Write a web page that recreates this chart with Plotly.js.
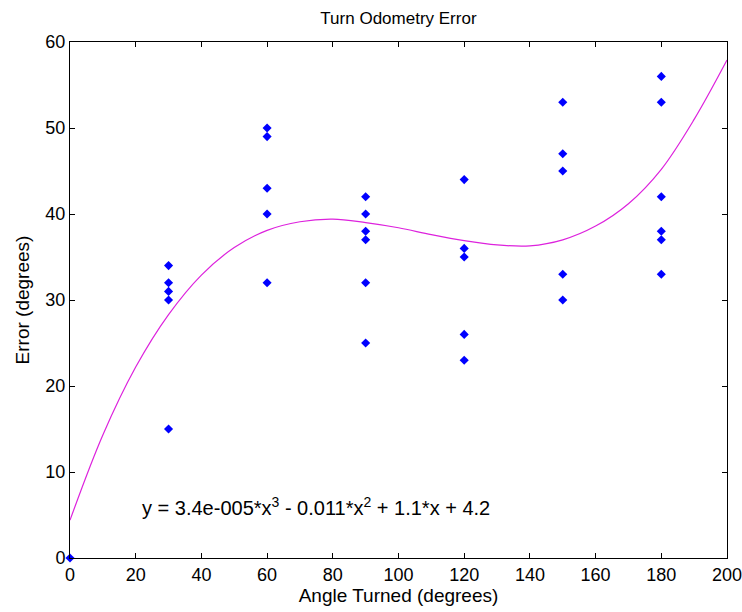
<!DOCTYPE html>
<html>
<head>
<meta charset="utf-8">
<script src="https://cdn.plot.ly/plotly-3.0.1.min.js"></script>
<style>html,body{margin:0;padding:0;background:#fff;}#chart{width:742px;height:612px;}</style>
</head>
<body>
<div id="chart"></div>
<script>
// Measured data points (angle turned, error)
const angles = [0, 30,30,30,30,30, 60,60,60,60,60, 90,90,90,90,90,90, 120,120,120,120,120, 150,150,150,150,150, 180,180,180,180,180,180];
const errors = [0, 34,32,31,30,15, 50,49,43,40,32, 42,40,38,37,32,25, 44,36,35,26,23, 53,47,45,33,30, 56,53,42,38,37,33];

// Fitted cubic curve
const fitX = [0,10,20,30,40,50,60,70,80,90,100,110,120,130,140,150,160,170,180,190,200];
const fitY = [4.4,14.3,22.2,28.3,32.9,36.1,38.1,39.1,39.4,39.0,38.4,37.6,36.9,36.4,36.3,37.0,38.6,41.2,45.2,51.0,57.9];

const xTicks = [0,20,40,60,80,100,120,140,160,180,200];
const yTicks = [0,10,20,30,40,50,60];

const fitLabel = 'y = 3.4e-005*x<sup>3</sup> - 0.011*x<sup>2</sup> + 1.1*x + 4.2';

const fam = 'Arial, "Liberation Sans", sans-serif';
const font = (s) => ({family: fam, size: s, color: '#000'});

const traces = [
  {x: angles, y: errors, mode: 'markers', type: 'scatter', cliponaxis: false,
   marker: {symbol: 'diamond', size: 7, color: '#0000ff'}},
  {x: fitX, y: fitY, mode: 'lines', type: 'scatter',
   line: {color: '#dd22dd', width: 1.2, shape: 'spline', smoothing: 1}}
];

const axisCommon = {
  showgrid: false, zeroline: false, showline: true, linecolor: '#000', linewidth: 1,
  mirror: 'ticks', ticks: 'inside', ticklen: 5, tickcolor: '#000', tickfont: font(18),
  ticklabeloverflow: 'allow', automargin: false
};

const layout = {
  width: 742, height: 612,
  margin: {l: 70, r: 15, t: 42, b: 54},
  paper_bgcolor: '#fff', plot_bgcolor: '#fff',
  showlegend: false,
  title: {text: 'Turn Odometry Error', font: font(17), x: 0.537, xanchor: 'center', y: 0.971, yanchor: 'middle'},
  xaxis: Object.assign({}, axisCommon, {range: [0, 200], tickvals: xTicks, ticktext: xTicks.map(String),
    title: {text: 'Angle Turned (degrees)', font: font(19), standoff: 5}}),
  yaxis: Object.assign({}, axisCommon, {range: [0, 60], tickvals: yTicks, ticktext: yTicks.map(String),
    title: {text: 'Error (degrees)', font: font(19), standoff: 10}}),
  annotations: [{x: 21.3, y: 6.0, xref: 'x', yref: 'y', text: fitLabel, showarrow: false,
    xanchor: 'left', yanchor: 'middle', font: font(20)}]
};

Plotly.newPlot('chart', traces, layout, {displayModeBar: false, staticPlot: true});
</script>
</body>
</html>
